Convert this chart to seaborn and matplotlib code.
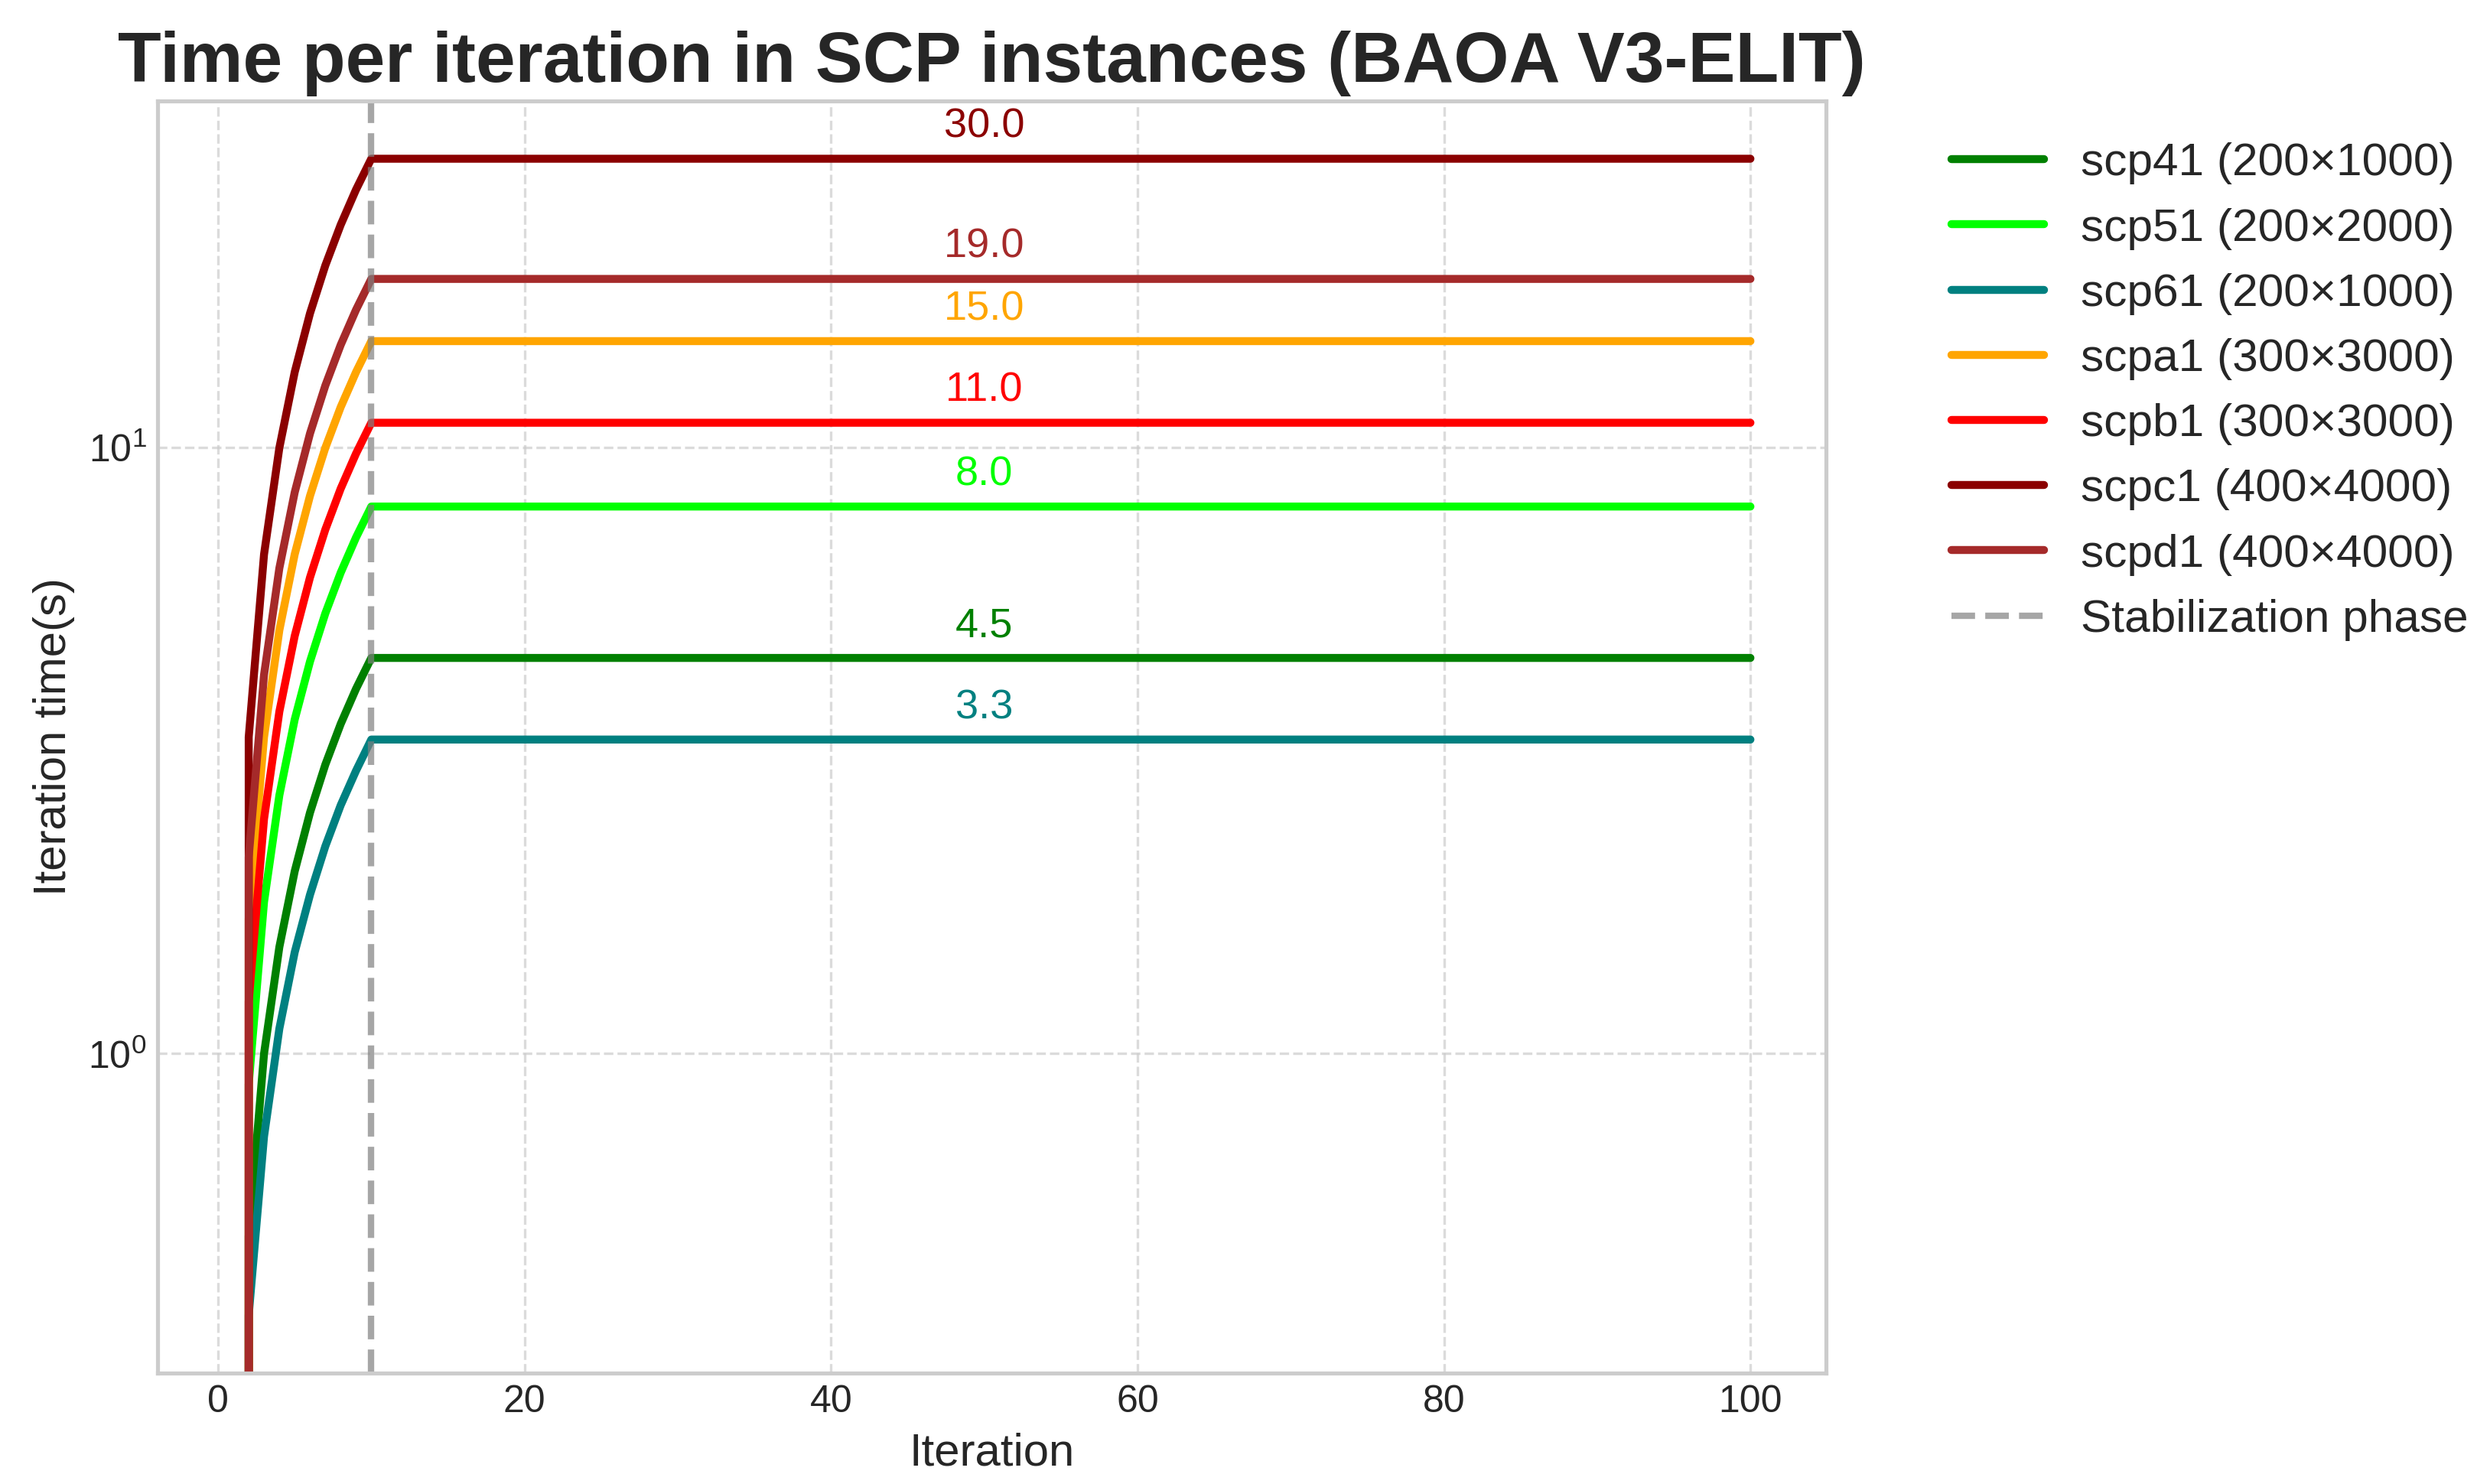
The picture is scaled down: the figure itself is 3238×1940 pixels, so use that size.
import matplotlib
matplotlib.use("Agg")
import matplotlib.pyplot as plt
import seaborn as sns
import pandas as pd

# ---- data ----
iterations = list(range(1, 101))
instances = ["scp41", "scp51", "scp61", "scpa1", "scpb1", "scpc1", "scpd1"]
sizes = ["200×1000", "200×2000", "200×1000", "300×3000", "300×3000", "400×4000", "400×4000"]
stable_time = [4.5, 8.0, 3.3, 15.0, 11.0, 30.0, 19.0]
# warm-up phase, iterations 1..10
warmup_scp41 = [0, 0.50, 1.00, 1.50, 2.00, 2.50, 3.00, 3.50, 4.00, 4.5]
warmup_scp51 = [0, 0.89, 1.78, 2.67, 3.56, 4.44, 5.33, 6.22, 7.11, 8.0]
warmup_scp61 = [0, 0.37, 0.73, 1.10, 1.47, 1.83, 2.20, 2.57, 2.93, 3.3]
warmup_scpa1 = [0, 1.67, 3.33, 5.00, 6.67, 8.33, 10.00, 11.67, 13.33, 15.0]
warmup_scpb1 = [0, 1.22, 2.44, 3.67, 4.89, 6.11, 7.33, 8.56, 9.78, 11.0]
warmup_scpc1 = [0, 3.33, 6.67, 10.00, 13.33, 16.67, 20.00, 23.33, 26.67, 30.0]
warmup_scpd1 = [0, 2.11, 4.22, 6.33, 8.44, 10.56, 12.67, 14.78, 16.89, 19.0]
warmups = [warmup_scp41, warmup_scp51, warmup_scp61, warmup_scpa1,
           warmup_scpb1, warmup_scpc1, warmup_scpd1]
stabilization_iter = 10
colors = ["green", "lime", "teal", "orange", "red", "darkred", "brown"]

# ---- style ----
sns.set_theme(style="whitegrid")
plt.rcParams["font.family"] = ["Liberation Sans", "DejaVu Sans"]
plt.rcParams["axes.edgecolor"] = "#cccccc"
plt.rcParams["axes.linewidth"] = 1.25

fig = plt.figure(figsize=(3238 / 300, 1940 / 300), dpi=300)
ax = fig.add_axes([0.0636, 0.0747, 0.6737, 0.8573])

for name, size, stab, wu, col in zip(instances, sizes, stable_time, warmups, colors):
    vals = wu + [stab] * (len(iterations) - len(wu))
    df = pd.DataFrame({"Iteration": iterations, "t": vals})
    sns.lineplot(data=df, x="Iteration", y="t", color=col, linewidth=2.5,
                 solid_capstyle="round", label=f"{name} ({size})", ax=ax)

ax.axvline(stabilization_iter, color="gray", linestyle="--", alpha=0.7,
           linewidth=2.0, label="Stabilization phase")
ax.set_yscale("log")

for stab, col in zip(stable_time, colors):
    ax.text(50, stab * 1.05, f"{stab:.1f}", ha="center", va="bottom",
            color=col, fontsize=13)

ax.grid(True, linestyle="--", alpha=0.7, linewidth=0.8)
ax.set_title("Time per iteration in SCP instances (BAOA V3-ELIT)",
             fontsize=22.3, fontweight="bold", color="#262626")
ax.set_xlabel("Iteration", fontsize=14.4)
ax.set_ylabel("Iteration time(s)", fontsize=14.4)
ax.tick_params(axis="both", which="both", labelsize=12, length=0, pad=3.5)
ax.legend(bbox_to_anchor=(1.05, 1), loc="upper left", fontsize=14.5, frameon=False)

fig.savefig("out.png", dpi=300)
